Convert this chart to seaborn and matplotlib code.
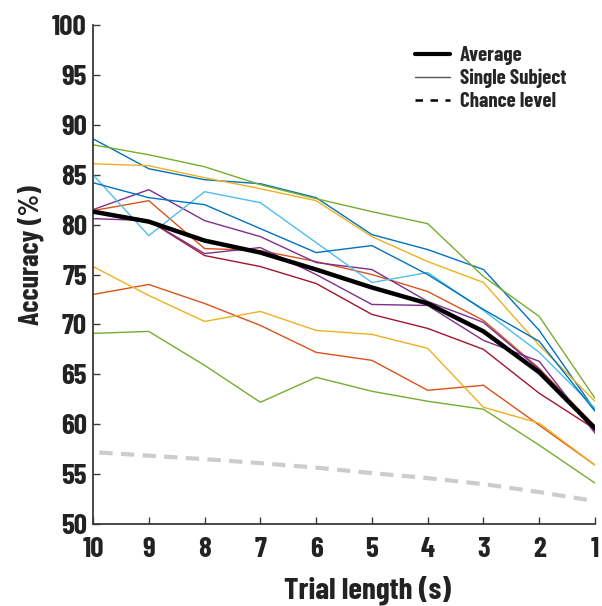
import matplotlib
matplotlib.use("Agg")
import matplotlib.pyplot as plt
from matplotlib.lines import Line2D
import numpy as np
import pandas as pd
import seaborn as sns

# Trial lengths (seconds), plotted from 10 down to 1
trial_length = [10, 9, 8, 7, 6, 5, 4, 3, 2, 1]

# Per-subject classification accuracy (%)
subj_01 = [88.6, 85.6, 84.5, 84.1, 82.7, 79.0, 77.5, 75.5, 69.4, 61.4]
subj_02 = [81.4, 82.4, 77.6, 77.4, 76.3, 75.0, 73.3, 70.4, 65.6, 59.8]
subj_03 = [86.1, 85.9, 84.7, 83.6, 82.4, 78.8, 76.3, 74.2, 67.9, 62.3]
subj_04 = [81.5, 83.5, 80.4, 78.8, 76.2, 75.5, 72.3, 70.2, 65.5, 59.3]
subj_05 = [88.0, 87.0, 85.8, 84.0, 82.6, 81.3, 80.1, 74.8, 70.8, 62.6]
subj_06 = [85.0, 78.9, 83.3, 82.2, 78.2, 74.2, 75.2, 71.4, 67.2, 61.6]
subj_07 = [81.4, 80.4, 76.9, 75.8, 74.1, 71.0, 69.6, 67.5, 63.1, 59.5]
subj_08 = [84.2, 82.7, 82.0, 79.6, 77.2, 77.9, 75.0, 71.5, 68.3, 61.3]
subj_09 = [73.0, 74.0, 72.1, 69.9, 67.2, 66.4, 63.4, 63.9, 59.9, 55.9]
subj_10 = [75.8, 72.9, 70.3, 71.3, 69.4, 69.0, 67.6, 61.7, 60.1, 55.9]
subj_11 = [80.6, 80.4, 77.1, 77.7, 75.0, 72.0, 71.9, 68.4, 66.3, 59.1]
subj_12 = [69.1, 69.3, 65.9, 62.2, 64.7, 63.3, 62.3, 61.5, 57.9, 54.1]

average = [81.3, 80.3, 78.4, 77.2, 75.5, 73.7, 72.1, 69.3, 65.2, 59.6]
chance = [57.2, 56.85, 56.5, 56.1, 55.65, 55.1, 54.6, 54.0, 53.2, 52.3]

subjects = [subj_01, subj_02, subj_03, subj_04, subj_05, subj_06,
            subj_07, subj_08, subj_09, subj_10, subj_11, subj_12]

# MATLAB-style colour order, cycled over the subjects
matlab_colors = ["#0072BD", "#D95319", "#EDB120", "#7E2F8E",
                 "#77AC30", "#4DBEEE", "#A2142F"]

sns.set_style("ticks")
plt.rcParams["font.family"] = ["Barlow Condensed", "Roboto Condensed",
                               "Sofia Sans Condensed", "DejaVu Sans"]
plt.rcParams["font.weight"] = "bold"

rows = []
for i, acc in enumerate(subjects):
    for t, a in zip(trial_length, acc):
        rows.append({"subject": f"S{i + 1:02d}", "length": t, "accuracy": a})
df = pd.DataFrame(rows)
palette = {f"S{i + 1:02d}": matlab_colors[i % len(matlab_colors)]
           for i in range(len(subjects))}

fig = plt.figure(figsize=(6.02, 6.06), dpi=100)
ax = fig.add_axes([0.1545, 0.1353, 0.8339, 0.8234])

chance_df = pd.DataFrame({"length": trial_length, "accuracy": chance})
sns.lineplot(data=chance_df, x="length", y="accuracy", ax=ax,
             color="#cccccc", linewidth=3.0, dashes=False,
             linestyle=(3.2, (3.2, 2.0)), zorder=1)

sns.lineplot(data=df, x="length", y="accuracy", hue="subject",
             palette=palette, ax=ax, linewidth=1.0, legend=False,
             zorder=2)

avg_df = pd.DataFrame({"length": trial_length, "accuracy": average})
sns.lineplot(data=avg_df, x="length", y="accuracy", ax=ax,
             color="black", linewidth=3.2, zorder=3)

ax.set_xlim(10, 1)
ax.set_ylim(50, 100)
ax.set_xticks(trial_length)
ax.set_yticks(np.arange(50, 101, 5))

for side in ["top", "right"]:
    ax.spines[side].set_visible(False)
for side in ["left", "bottom"]:
    ax.spines[side].set_color("#3a3a3a")
    ax.spines[side].set_linewidth(1.3)

ax.tick_params(direction="in", length=5, width=1.0, color="#3a3a3a",
               labelsize=21, labelcolor="#222222")
ax.tick_params(axis="x", pad=9)
ax.tick_params(axis="y", pad=4.5)

ax.set_xlabel("Trial length (s)", fontsize=22.4, fontweight="bold",
              color="#222222")
ax.set_ylabel("Accuracy (%)", fontsize=20, fontweight="bold",
              color="#222222")
ax.xaxis.set_label_coords(0.546, -0.104)
ax.yaxis.set_label_coords(-0.098, 0.539)

handles = [
    Line2D([], [], color="black", linewidth=3.0),
    Line2D([], [], color="#555555", linewidth=1.0),
    Line2D([], [], color="black", linewidth=1.8, linestyle=(0, (3, 3))),
]
labels = ["Average", "Single Subject", "Chance level"]
ax.legend(handles, labels, loc="upper left", bbox_to_anchor=(0.624, 0.975),
          frameon=False, fontsize=15, handlelength=1.68, handletextpad=0.48,
          labelspacing=0.18, borderaxespad=0)

fig.savefig("out.png", dpi=100)
